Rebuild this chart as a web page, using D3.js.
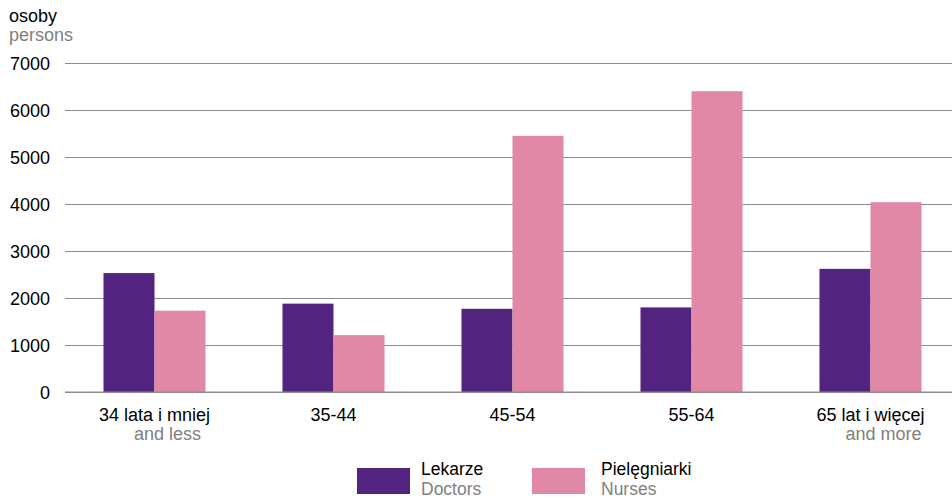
<!DOCTYPE html>
<html>
<head>
<meta charset="utf-8">
<script src="https://cdn.jsdelivr.net/npm/d3@7"></script>
<style>
  html, body { margin: 0; padding: 0; background: #fff; }
  svg { display: block; font-family: "Liberation Sans", Arial, sans-serif; }
</style>
</head>
<body>
<svg id="chart" width="952" height="499"></svg>
<script>
// Age groups (Polish label + English sub-label)
const categories = ["34 lata i mniej", "35-44", "45-54", "55-64", "65 lat i więcej"];
const categoriesEn = ["and less", "", "", "", "and more"];
// Number of persons per age group
const doctors = [2530, 1880, 1770, 1800, 2620];
const nurses = [1730, 1210, 5450, 6400, 4040];
const yTicks = [0, 1000, 2000, 3000, 4000, 5000, 6000, 7000];
const seriesNames = [
  { pl: "Lekarze", en: "Doctors" },
  { pl: "Pielęgniarki", en: "Nurses" }
];
const colors = ["#52247f", "#e288a7"];
const fontSize = "18px";
const legendFontSize = "17.5px";

const svg = d3.select("#chart");
const plotLeft = 65, plotRight = 960, plotTop = 63, plotBottom = 392;

const x = d3.scaleBand().domain(categories).range([plotLeft, plotRight]).paddingInner(0.43).paddingOuter(0.215);
const xs = d3.scaleBand().domain([0, 1]).range([0, x.bandwidth()]);
const y = d3.scaleLinear().domain([0, 7000]).range([plotBottom, plotTop]);

// Horizontal gridlines with tick labels
const yAxis = d3.axisLeft(y).tickValues(yTicks).tickSize(-(952 - plotLeft)).tickFormat(d3.format("d"));
const gy = svg.append("g").attr("transform", `translate(${plotLeft},0)`).call(yAxis);
gy.select(".domain").remove();
gy.selectAll(".tick line").attr("stroke", "#8c8c8c").attr("stroke-width", 1);
gy.selectAll(".tick text")
  .attr("x", -15).attr("dy", "0.34em")
  .attr("fill", "#000").style("font-size", fontSize)
  .style("font-family", "'Liberation Sans', Arial, sans-serif");

// Bars
const groups = svg.append("g").selectAll("g")
  .data(categories.map((c, i) => ({ c, vals: [doctors[i], nurses[i]] })))
  .join("g")
  .attr("transform", d => `translate(${x(d.c)},0)`);
groups.selectAll("rect")
  .data(d => d.vals.map((v, k) => ({ v, k })))
  .join("rect")
  .attr("x", d => xs(d.k))
  .attr("width", xs.bandwidth())
  .attr("y", d => y(d.v))
  .attr("height", d => y(0) - y(d.v))
  .attr("fill", d => colors[d.k]);

// Baseline
svg.append("line").attr("x1", plotLeft).attr("x2", 952).attr("y1", y(0)).attr("y2", y(0))
  .attr("stroke", "#8c8c8c").attr("stroke-width", 1);

// Category labels
const xl = svg.append("g");
categories.forEach((c, i) => {
  const cx = x(c) + x.bandwidth() / 2;
  xl.append("text").attr("x", cx).attr("y", 421)
    .attr("text-anchor", "middle").attr("fill", "#000").style("font-size", fontSize).text(c);
  if (categoriesEn[i]) {
    xl.append("text").attr("x", cx + 13).attr("y", 440)
      .attr("text-anchor", "middle").attr("fill", "#808080").style("font-size", fontSize).text(categoriesEn[i]);
  }
});

// Axis unit title
svg.append("text").attr("x", 9).attr("y", 22).attr("fill", "#000").style("font-size", fontSize).text("osoby");
svg.append("text").attr("x", 9).attr("y", 41).attr("fill", "#808080").style("font-size", fontSize).text("persons");

// Legend
const legendX = [357, 532];
seriesNames.forEach((s, k) => {
  const g = svg.append("g").attr("transform", `translate(${legendX[k]},0)`);
  g.append("rect").attr("x", 0).attr("y", 468).attr("width", 53).attr("height", 26).attr("fill", colors[k]);
  g.append("text").attr("x", k === 0 ? 64 : 69).attr("y", 475).attr("fill", "#000").style("font-size", legendFontSize).text(s.pl);
  g.append("text").attr("x", k === 0 ? 64 : 69).attr("y", 495).attr("fill", "#808080").style("font-size", legendFontSize).text(s.en);
});
</script>
</body>
</html>
